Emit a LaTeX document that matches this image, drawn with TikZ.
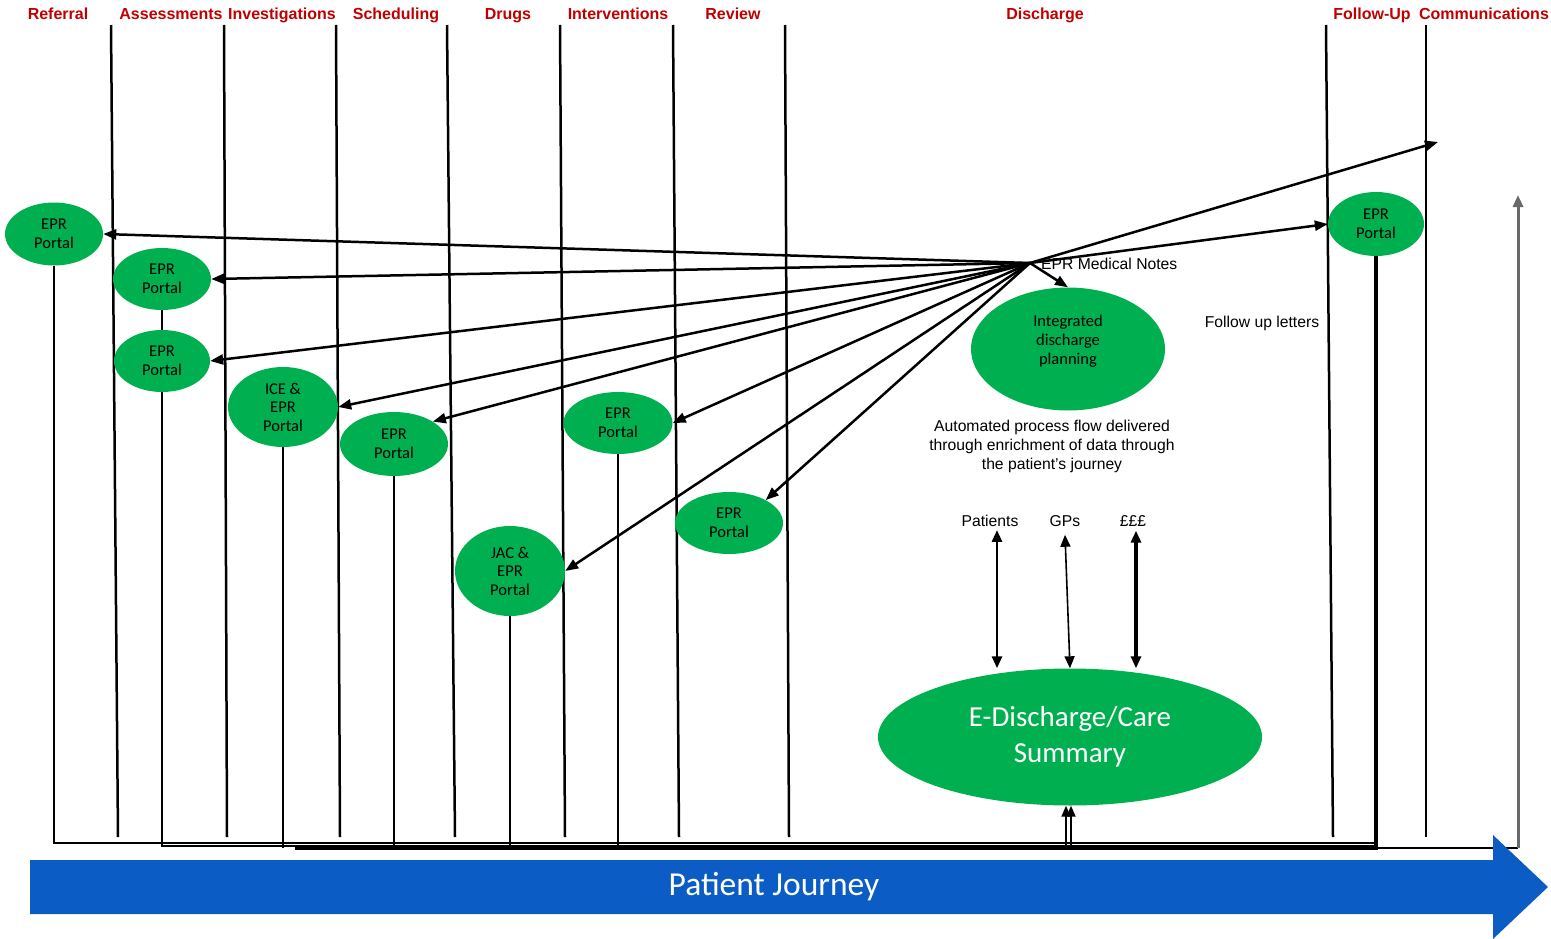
\documentclass[tikz,border=0pt]{standalone}
\usepackage{fontspec}
\setmainfont{Liberation Sans}
\newfontfamily\calibri{Carlito}
\usetikzlibrary{shapes.geometric,arrows.meta}
\definecolor{hdrred}{RGB}{192,0,0}
\definecolor{portalgreen}{RGB}{0,176,80}
\definecolor{journeyblue}{RGB}{11,93,197}
\definecolor{railgray}{RGB}{105,105,105}

\begin{document}
\begin{tikzpicture}[x=1pt,y=-1pt,
  hdr/.style={font=\fontsize{16}{18}\selectfont\bfseries, text=hdrred, inner sep=0pt, anchor=base},
  portal/.style={ellipse, fill=portalgreen, inner sep=0pt, align=center,
                 font=\calibri\fontsize{16.5}{18.5}\selectfont},
  sepline/.style={line width=2.5pt},
  stem/.style={line width=2.8pt},
  link/.style={line width=2.5pt, -{Triangle[length=13pt,width=10pt]}},
  twoway/.style={{Triangle[length=12pt,width=10pt]}-{Triangle[length=12pt,width=10pt]}},
  lbl/.style={font=\fontsize{15.7}{19}\selectfont, inner sep=0pt, align=center},
]
\useasboundingbox (0,0) rectangle (1551,939);

% column headings
\node[hdr] (hReferral) at (58,20) {Referral};
\node[hdr] (hAssess)   at (171,20) {Assessments};
\node[hdr] (hInvest)   at (282,20) {Investigations};
\node[hdr] (hSched)    at (396,20) {Scheduling};
\node[hdr] (hDrugs)    at (508,20) {Drugs};
\node[hdr] (hInterv)   at (618,20) {Interventions};
\node[hdr] (hReview)   at (733,20) {Review};
\node[hdr] (hDisch)    at (1045,20) {Discharge};
\node[hdr] (hFollow)   at (1372,20) {Follow-Up};
\node[hdr] (hComms)    at (1484,20) {Communications};

% column separators
\draw[sepline] (111,25) -- (118,837);
\draw[sepline] (224,25) -- (227,837);
\draw[sepline] (336,25) -- (340,837);
\draw[sepline] (447,25) -- (455,837);
\draw[sepline] (560,25) -- (565,837);
\draw[sepline] (673,25) -- (679,837);
\draw[sepline] (785,25) -- (789,837);
\draw[sepline] (1326,25) -- (1333,837);
\draw[sepline] (1426,25) -- (1426,837);

% system touch points
\node[portal, minimum width=98pt,  minimum height=63pt] (p1) at (54,234) {EPR\\Portal};
\node[portal, minimum width=98pt,  minimum height=62pt] (p2) at (162,279) {EPR\\Portal};
\node[portal, minimum width=96pt,  minimum height=62pt] (p3) at (162,361) {EPR\\Portal};
\node[portal, minimum width=110pt, minimum height=80pt] (p4) at (283,407) {ICE \&\\EPR\\Portal};
\node[portal, minimum width=108pt, minimum height=64pt] (p5) at (394,444) {EPR\\Portal};
\node[portal, minimum width=110pt, minimum height=90pt] (p6) at (510,571) {JAC \&\\EPR\\Portal};
\node[portal, minimum width=109pt, minimum height=62pt] (p7) at (618,423) {EPR\\Portal};
\node[portal, minimum width=108pt, minimum height=62pt] (p8) at (729,523) {EPR\\Portal};
\node[portal, minimum width=96pt,  minimum height=64pt] (p10) at (1376,224) {EPR\\Portal};

\node[portal, minimum width=194pt, minimum height=123pt] (idp) at (1068,349) {};
\node[lbl, font=\calibri\fontsize{16.5}{19}\selectfont] (idptext) at (1068,341) {Integrated\\discharge\\planning};

\node[portal, minimum width=384pt, minimum height=137pt, text=white,
      font=\calibri\fontsize{29}{36}\selectfont] (ed) at (1070,737) {E-Discharge/Care\\Summary};

% medical notes hub
\coordinate (hub) at (1030,263);
\coordinate (comms) at (1438,142);
\node[lbl, anchor=west] (notes) at (1041,264) {EPR Medical Notes};

\foreach \t in {p1.east,p2.east,p3.east,p4.east,p5.30,p7.east,p8.32,p6.east,idp.north,p10.west,comms}
  \draw[link] (hub) -- (\t);

% free text
\node[lbl] (letters) at (1262,323) {Follow up letters};
\node[lbl] (auto) at (1052,446) {Automated process flow delivered\\through enrichment of data through\\the patient's journey};

\node[lbl] (pat) at (990,521) {Patients};
\node[lbl] (gps) at (1065,521) {GPs};
\node[lbl] (gbp) at (1133,521) {£££};
\draw[twoway, line width=2.8pt] ([xshift=7pt,yshift=-3pt]pat.south) -- ([xshift=-73pt]ed.north);
\draw[twoway, line width=1.6pt] ([yshift=-8pt]gps.south) -- (ed.north);
\draw[twoway, line width=3.2pt] ([xshift=3pt,yshift=-4pt]gbp.south) -- ([xshift=66pt]ed.north);

% stems down to the timeline rail
\coordinate (r1) at (0,843);
\coordinate (r2) at (0,846);
\coordinate (r3) at (295,848);
\draw[stem] (p1.south) -- (p1.south |- r1) -- (p10.south |- r1);
\draw[stem] (p2.south) -- (p3.north);
\draw[stem] (p3.south) -- (p3.south |- r2) -- (p10.south |- r2);
\draw[stem] (p4.south) -- (p4.south |- r3);
\draw[stem] (p5.south) -- (p5.south |- r3);
\draw[stem] (p6.south) -- (p6.south |- r3);
\draw[stem] (p7.south) -- (p7.south |- r3);
\draw[stem, line width=3.5pt] (r3) -- (p10.south |- r3) -- (p10.south);

% return path to communications
\coordinate (corner) at (1518,848);
\coordinate (commsTop) at (1518,195);
\draw[line width=1.8pt] (p10.south |- r3) -- (corner);
\draw[railgray, line width=3pt, -{Triangle[length=12pt,width=10pt]}] (corner) -- (commsTop);

% feed into the discharge summary
\coordinate (feedL) at (1066,845);
\coordinate (feedR) at (1071,845);
\draw[line width=1.8pt, -{Triangle[length=11pt,width=9pt]}] (feedL) -- ([xshift=-4pt]ed.south);
\draw[line width=1.8pt, -{Triangle[length=11pt,width=9pt]}] (feedR) -- ([xshift=1pt]ed.south);

% patient journey arrow
\fill[journeyblue] (30,860) -- (1493,860) -- (1493,835) -- (1548,887) -- (1493,939) -- (1493,914) -- (30,914) -- cycle;
\node[text=white, font=\calibri\fontsize{33.5}{38}\selectfont, inner sep=0pt] (journey) at (774,887) {Patient Journey};

\end{tikzpicture}
\end{document}
